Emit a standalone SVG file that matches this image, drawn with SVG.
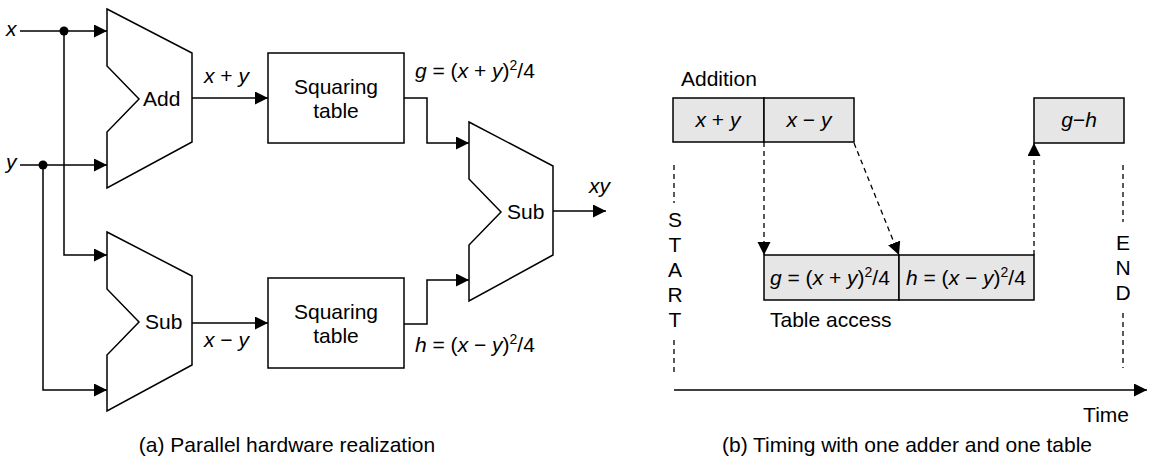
<svg xmlns="http://www.w3.org/2000/svg" width="1153" height="458" viewBox="0 0 1153 458">
<style>
text{font-family:"Liberation Sans",Arial,sans-serif;font-size:21px;fill:#000}
.i{font-style:italic}
.sup{font-size:14px}
.shape{fill:#fff;stroke:#000;stroke-width:1.5}
.box{fill:#e6e6e6;stroke:#000;stroke-width:1.5}
.w{fill:none;stroke:#000;stroke-width:1.5}
.d{fill:none;stroke:#000;stroke-width:1.3;stroke-dasharray:5 4}
.m{text-anchor:middle}
</style>
<defs>
<marker id="ah" markerUnits="userSpaceOnUse" markerWidth="14" markerHeight="14" refX="13" refY="6.5" orient="auto">
<path d="M0,0 L13,6.5 L0,13 z" fill="#000"/>
</marker>
</defs>
<rect width="1153" height="458" fill="#fff"/>

<!-- (a) parallel hardware -->
<g id="add">
<path class="shape" d="M107,9 L192,53 L192,142 L107,188 L107,132 L139,99 L107,66 Z"/>
<text x="143" y="106">Add</text>
</g>
<g id="sub1">
<path class="shape" d="M107,232 L192,276 L192,365 L107,411 L107,355 L139,322 L107,289 Z"/>
<text x="145" y="329">Sub</text>
</g>
<g id="table1">
<rect class="shape" x="268" y="53" width="136" height="90"/>
<text class="m" x="336" y="94">Squaring</text>
<text class="m" x="336" y="118">table</text>
</g>
<g id="table2">
<rect class="shape" x="268" y="278" width="136" height="90"/>
<text class="m" x="336" y="319">Squaring</text>
<text class="m" x="336" y="343">table</text>
</g>
<g id="sub2">
<path class="shape" d="M469,122 L553,166 L553,255 L469,301 L469,245 L501,212 L469,179 Z"/>
<text x="507" y="219">Sub</text>
</g>
<g id="labels-a">
<text class="i" x="6" y="36">x</text>
<text class="i" x="6" y="169">y</text>
<text x="204" y="83"><tspan class="i">x</tspan> + <tspan class="i">y</tspan></text>
<text x="204" y="347"><tspan class="i">x</tspan> − <tspan class="i">y</tspan></text>
<text x="415" y="78"><tspan class="i">g</tspan> = (<tspan class="i">x</tspan> + <tspan class="i">y</tspan>)<tspan class="sup" dy="-8">2</tspan><tspan dy="8">/4</tspan></text>
<text x="415" y="352"><tspan class="i">h</tspan> = (<tspan class="i">x</tspan> − <tspan class="i">y</tspan>)<tspan class="sup" dy="-8">2</tspan><tspan dy="8">/4</tspan></text>
<text class="i" x="589" y="193">xy</text>
<text class="m" x="287" y="452">(a) Parallel hardware realization</text>
</g>
<g id="connectors-a">
<path class="w" d="M20,31 L107,31" marker-end="url(#ah)"/>
<path class="w" d="M64,31 L64,255 L107,255" marker-end="url(#ah)"/>
<path class="w" d="M20,165 L107,165" marker-end="url(#ah)"/>
<path class="w" d="M43,165 L43,390 L107,390" marker-end="url(#ah)"/>
<circle cx="64" cy="31" r="4.5" fill="#000"/>
<circle cx="43" cy="165" r="4.5" fill="#000"/>
<path class="w" d="M192,98 L268,98" marker-end="url(#ah)"/>
<path class="w" d="M192,323 L268,323" marker-end="url(#ah)"/>
<path class="w" d="M404,98 L427,98 L427,143 L469,143" marker-end="url(#ah)"/>
<path class="w" d="M404,324 L427,324 L427,280 L469,280" marker-end="url(#ah)"/>
<path class="w" d="M553,211 L606,211" marker-end="url(#ah)"/>
</g>

<!-- (b) timing -->
<g id="addition">
<text x="681" y="86">Addition</text>
<rect class="box" x="673" y="98" width="91" height="44"/>
<rect class="box" x="764" y="98" width="90" height="44"/>
<text class="m" x="718" y="127"><tspan class="i">x</tspan> + <tspan class="i">y</tspan></text>
<text class="m" x="809" y="127"><tspan class="i">x</tspan> − <tspan class="i">y</tspan></text>
</g>
<g id="table-access">
<rect class="box" x="764" y="255" width="135" height="45"/>
<rect class="box" x="899" y="255" width="135" height="45"/>
<text x="770" y="285"><tspan class="i">g</tspan> = (<tspan class="i">x</tspan> + <tspan class="i">y</tspan>)<tspan class="sup" dy="-8">2</tspan><tspan dy="8">/4</tspan></text>
<text x="906" y="285"><tspan class="i">h</tspan> = (<tspan class="i">x</tspan> − <tspan class="i">y</tspan>)<tspan class="sup" dy="-8">2</tspan><tspan dy="8">/4</tspan></text>
<text x="770" y="327">Table access</text>
</g>
<g id="result">
<rect class="box" x="1034" y="98" width="90" height="45"/>
<text class="m i" x="1079" y="127">g−h</text>
</g>
<g id="start">
<text class="m" x="675" y="227">S</text>
<text class="m" x="675" y="252">T</text>
<text class="m" x="675" y="277">A</text>
<text class="m" x="675" y="302">R</text>
<text class="m" x="675" y="327">T</text>
</g>
<g id="end">
<text class="m" x="1123" y="250">E</text>
<text class="m" x="1123" y="275">N</text>
<text class="m" x="1123" y="300">D</text>
</g>
<g id="connectors-b">
<path class="d" d="M674,165 L674,203"/>
<path class="d" d="M674,340 L674,372"/>
<path class="d" d="M1123,165 L1123,222"/>
<path class="d" d="M1123,313 L1123,368"/>
<path class="d" d="M764,142 L764,255" marker-end="url(#ah)"/>
<path class="d" d="M854,143 L899,255" marker-end="url(#ah)"/>
<path class="d" d="M1034,255 L1034,143" marker-end="url(#ah)"/>
<path class="w" d="M674,390 L1147,390" marker-end="url(#ah)"/>
<text x="1129" y="422" text-anchor="end">Time</text>
<text class="m" x="907" y="452">(b) Timing with one adder and one table</text>
</g>
</svg>
